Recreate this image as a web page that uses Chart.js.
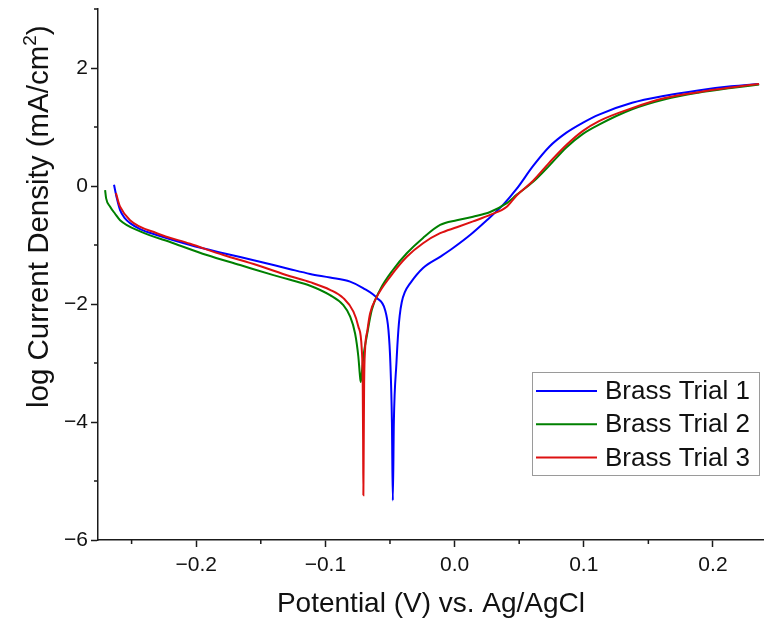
<!DOCTYPE html>
<html>
<head>
<meta charset="utf-8">
<script src="https://cdn.jsdelivr.net/npm/chart.js@4.4.0/dist/chart.umd.min.js"></script>
<style>
  html, body { margin: 0; padding: 0; background: #fff; }
  #wrap { width: 764px; height: 621px; }
</style>
</head>
<body>
<div id="wrap"><canvas id="tafel" width="764" height="621"></canvas></div>
<script>
// Tafel curves for three brass trials
const seriesLabels = ["Brass Trial 1", "Brass Trial 2", "Brass Trial 3"];

// potential (V vs. Ag/AgCl)
const trial1Potential = [-0.2636, -0.2614, -0.2589, -0.2551, -0.2512, -0.2434, -0.2305, -0.2047, -0.1789, -0.1531, -0.1273, -0.1118, -0.0964, -0.0809, -0.0708, -0.0600, -0.0538, -0.0512, -0.0497, -0.0485, -0.0478, -0.0470, -0.0450, -0.0435, -0.0425, -0.0409, -0.0385, -0.0344, -0.0244, -0.0112, -0.0012, 0.0120, 0.0249, 0.0375, 0.0480, 0.0608, 0.0735, 0.0863, 0.0991, 0.1118, 0.1374, 0.1629, 0.1885, 0.2140, 0.2357];
const trial2Potential = [-0.2705, -0.2697, -0.2666, -0.2628, -0.2589, -0.2434, -0.2176, -0.1918, -0.1660, -0.1402, -0.1273, -0.1118, -0.0964, -0.0861, -0.0809, -0.0770, -0.0745, -0.0731, -0.0726, -0.0716, -0.0706, -0.0680, -0.0641, -0.0577, -0.0476, -0.0370, -0.0244, -0.0112, 0.0017, 0.0143, 0.0275, 0.0404, 0.0480, 0.0608, 0.0735, 0.0863, 0.0991, 0.1118, 0.1374, 0.1629, 0.1885, 0.2140, 0.2357];
const trial3Potential = [-0.2621, -0.2602, -0.2589, -0.2512, -0.2305, -0.2047, -0.1789, -0.1531, -0.1273, -0.1118, -0.0964, -0.0861, -0.0783, -0.0745, -0.0718, -0.0711, -0.0708, -0.0706, -0.0703, -0.0700, -0.0693, -0.0675, -0.0654, -0.0602, -0.0499, -0.0370, -0.0244, -0.0112, 0.0017, 0.0143, 0.0275, 0.0404, 0.0480, 0.0608, 0.0735, 0.0863, 0.0991, 0.1118, 0.1374, 0.1629, 0.1885, 0.2140, 0.2357];

// log current density (mA/cm2)
const trial1LogI = [0.02, -0.21, -0.41, -0.55, -0.63, -0.73, -0.83, -1.00, -1.14, -1.27, -1.41, -1.49, -1.55, -1.62, -1.73, -1.90, -2.10, -2.44, -3.00, -4.00, -5.33, -4.00, -3.00, -2.44, -2.20, -1.97, -1.80, -1.65, -1.39, -1.20, -1.05, -0.83, -0.58, -0.32, -0.05, 0.34, 0.67, 0.90, 1.07, 1.21, 1.41, 1.53, 1.62, 1.69, 1.73];
const trial2LogI = [-0.07, -0.21, -0.35, -0.47, -0.58, -0.77, -0.97, -1.17, -1.34, -1.51, -1.59, -1.69, -1.85, -2.02, -2.21, -2.50, -2.89, -3.25, -3.32, -3.12, -2.89, -2.55, -2.10, -1.76, -1.42, -1.14, -0.88, -0.66, -0.58, -0.52, -0.44, -0.29, -0.15, 0.07, 0.35, 0.65, 0.88, 1.04, 1.30, 1.47, 1.58, 1.66, 1.72];
const trial3LogI = [-0.12, -0.27, -0.35, -0.58, -0.80, -0.98, -1.17, -1.34, -1.53, -1.63, -1.76, -1.90, -2.13, -2.38, -2.78, -3.34, -4.30, -5.24, -4.30, -3.34, -2.78, -2.45, -2.16, -1.88, -1.54, -1.20, -0.97, -0.80, -0.70, -0.60, -0.49, -0.35, -0.16, 0.09, 0.40, 0.69, 0.93, 1.10, 1.32, 1.49, 1.59, 1.67, 1.73];

// axis ticks
const xTickValues = [-0.2, -0.1, 0.0, 0.1, 0.2];
const xMinorTicks = [-0.25, -0.15, -0.05, 0.05, 0.15];
const yTickValues = [-6, -4, -2, 0, 2];
const yMinorTicks = [-5, -3, -1, 1, 3];

const axisColor = "#1a1a1a";
const fontFamily = "'Liberation Sans', Arial, sans-serif";
Chart.defaults.font.family = fontFamily;
Chart.defaults.color = "#111";

function toPoints(xs, ys) {
  return xs.map((v, i) => ({ x: v, y: ys[i] }));
}

function signed(text) {
  return text.replace("-", "\u2212");
}

// minor tick marks on both axes
const minorTicks = {
  id: "minorTicks",
  afterDraw(chart) {
    const { ctx } = chart;
    const x = chart.scales.x;
    const y = chart.scales.y;
    ctx.save();
    ctx.strokeStyle = axisColor;
    ctx.lineWidth = 1.5;
    ctx.beginPath();
    xMinorTicks.forEach((v) => {
      const px = x.getPixelForValue(v);
      ctx.moveTo(px, x.top);
      ctx.lineTo(px, x.top + 4);
    });
    yMinorTicks.forEach((v) => {
      const py = y.getPixelForValue(v);
      ctx.moveTo(y.right, py);
      ctx.lineTo(y.right - 4, py);
    });
    ctx.stroke();
    ctx.restore();
  },
};

// y axis title with a real superscript
const yTitle = {
  id: "yTitle",
  afterDraw(chart) {
    const ctx = chart.ctx;
    ctx.save();
    ctx.translate(40, 408);
    ctx.rotate(-Math.PI / 2);
    ctx.fillStyle = "#111";
    ctx.textBaseline = "middle";
    ctx.textAlign = "left";
    ctx.font = "29.5px " + fontFamily;
    const main = "log Current Density (mA/cm";
    ctx.fillText(main, 0, 0);
    let w = ctx.measureText(main).width;
    ctx.font = "19px " + fontFamily;
    ctx.fillText("2", w, -9);
    w += ctx.measureText("2").width;
    ctx.font = "29.5px " + fontFamily;
    ctx.fillText(")", w, 0);
    ctx.restore();
  },
};

// framed legend in the lower right corner of the plot
const boxLegend = {
  id: "boxLegend",
  afterDraw(chart) {
    const ctx = chart.ctx;
    const area = chart.chartArea;
    const left = area.right - 232;
    const top = 372;
    ctx.save();
    ctx.fillStyle = "#fff";
    ctx.fillRect(left, top, 227, 103);
    ctx.strokeStyle = "#9a9a9a";
    ctx.lineWidth = 1;
    ctx.strokeRect(left + 0.5, top + 0.5, 227, 103);
    ctx.font = "26px " + fontFamily;
    ctx.textBaseline = "middle";
    ctx.textAlign = "left";
    seriesLabels.forEach((label, i) => {
      const ds = chart.data.datasets.find((d) => d.label === label);
      const rowY = top + 19 + i * 33.2;
      ctx.strokeStyle = ds.borderColor;
      ctx.lineWidth = 2;
      ctx.beginPath();
      ctx.moveTo(left + 4, rowY);
      ctx.lineTo(left + 65, rowY);
      ctx.stroke();
      ctx.fillStyle = "#111";
      ctx.fillText(label, left + 73, rowY + 1);
    });
    ctx.restore();
  },
};

const ctx = document.getElementById("tafel");

new Chart(ctx, {
  type: "scatter",
  data: {
    datasets: [
      {
        label: seriesLabels[0],
        data: toPoints(trial1Potential, trial1LogI),
        borderColor: "#0000ff",
        order: 2,
      },
      {
        label: seriesLabels[1],
        data: toPoints(trial2Potential, trial2LogI),
        borderColor: "#008000",
        order: 1,
      },
      {
        label: seriesLabels[2],
        data: toPoints(trial3Potential, trial3LogI),
        borderColor: "#dd1111",
        order: 0,
      },
    ],
  },
  options: {
    responsive: false,
    animation: false,
    devicePixelRatio: 1,
    layout: { padding: { top: 9, right: 0, bottom: 0, left: 0 } },
    elements: {
      point: { radius: 0, hoverRadius: 0 },
      line: { borderWidth: 2, cubicInterpolationMode: "monotone", fill: false },
    },
    datasets: { scatter: { showLine: true } },
    scales: {
      x: {
        type: "linear",
        min: -0.276,
        max: 0.2395,
        afterBuildTicks: (scale) => {
          scale.ticks = xTickValues.map((v) => ({ value: v }));
        },
        afterFit: (scale) => {
          scale.height = 81;
          scale.paddingLeft = 0;
          scale.paddingRight = 0;
        },
        border: { color: axisColor, width: 1.5 },
        grid: {
          drawOnChartArea: false,
          tickLength: 7,
          tickColor: axisColor,
          tickWidth: 1.5,
        },
        ticks: {
          padding: 6,
          font: { size: 21 },
          color: "#111",
          maxRotation: 0,
          callback: (v) => signed(Number(v).toFixed(1)),
        },
        title: {
          display: true,
          text: "Potential (V) vs. Ag/AgCl",
          font: { size: 28 },
          color: "#111",
          padding: { top: 0, bottom: 0 },
        },
      },
      y: {
        type: "linear",
        min: -6,
        max: 3,
        afterBuildTicks: (scale) => {
          scale.ticks = yTickValues.map((v) => ({ value: v }));
        },
        afterFit: (scale) => {
          scale.width = 98;
          scale.paddingTop = 0;
          scale.paddingBottom = 0;
        },
        border: { color: axisColor, width: 1.5 },
        grid: {
          drawOnChartArea: false,
          tickLength: 7,
          tickColor: axisColor,
          tickWidth: 1.5,
        },
        ticks: {
          padding: 3,
          font: { size: 21 },
          color: "#111",
          callback: (v) => signed(String(v)),
        },
      },
    },
    plugins: {
      legend: { display: false },
      tooltip: { enabled: false },
    },
  },
  plugins: [minorTicks, yTitle, boxLegend],
});
</script>
</body>
</html>
